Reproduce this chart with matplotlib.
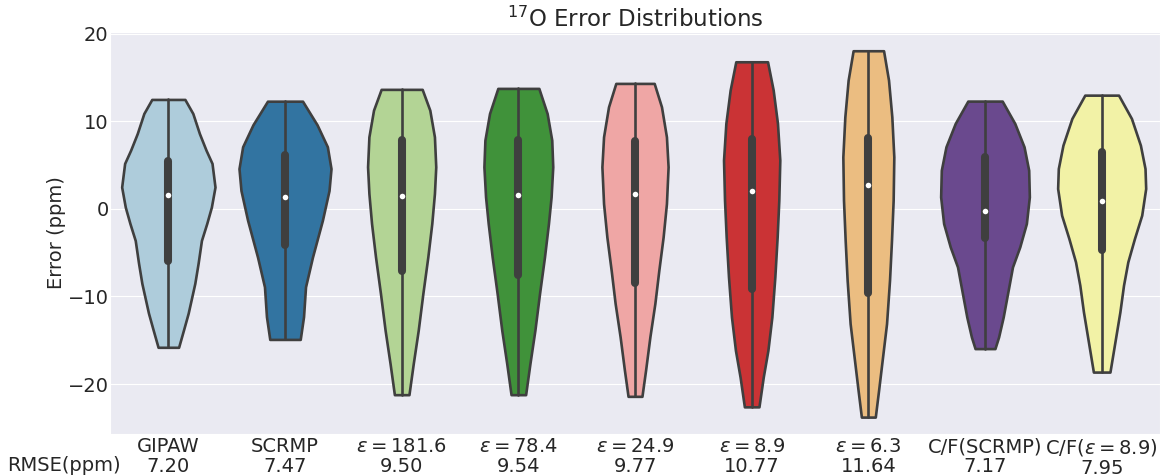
import numpy as np
import matplotlib.pyplot as plt
import seaborn as sns

sns.set_style("darkgrid")
plt.rcParams["font.family"] = ["DejaVu Sans"]

labels = ["GIPAW", "SCRMP", r"$\varepsilon=181.6$", r"$\varepsilon=78.4$",
          r"$\varepsilon=24.9$", r"$\varepsilon=8.9$", r"$\varepsilon=6.3$",
          "C/F(SCRMP)", r"C/F($\varepsilon=8.9$)"]
rmse = ["7.20", "7.47", "9.50", "9.54", "9.77", "10.77", "11.64", "7.17", "7.95"]
colors = ["#a6cee3", "#1f78b4", "#b2df8a", "#33a02c", "#fb9a99",
          "#e31a1c", "#fdbf6f", "#6a3d9a", "#ffff99"]

# violin outlines: error level (ppm) and density (arb. units)
levels = [
    [12.5, 10.9, 8.6, 6.7, 5.2, 2.5, 0.2, -1.67, -3.6, -6.2, -8.5, -11.9, -13.8, -15.8],
    [12.3, 9.6, 7.1, 4.6, 2.1, -1.3, -5.5, -8.9, -12.3, -14.9],
    [13.65, 11.28, 8.23, 4.80, 1.76, -1.67, -5.49, -9.67, -13.86, -17.67, -21.21],
    [13.76, 10.9, 7.85, 4.8, 1.37, -1.67, -5.49, -9.67, -13.86, -17.67, -21.21],
    [14.33, 11.66, 8.23, 4.80, 0.61, -3.2, -7.0, -10.8, -14.6, -18.4, -21.4],
    [16.8, 13.57, 9.76, 5.57, 1.0, -3.2, -7.77, -12.34, -16.15, -19.2, -22.6],
    [18.06, 14.71, 10.51, 5.94, 0.99, -3.58, -8.15, -13.1, -16.9, -20.7, -23.77],
    [12.31, 9.76, 7.09, 4.42, 1.37, -1.67, -4.34, -6.63, -9.29, -12.34, -14.63, -15.95],
    [12.99, 10.33, 7.28, 4.61, 2.33, -0.72, -3.39, -6.05, -8.72, -11.77, -15.2, -18.63],
]
density = [
    [50, 74, 94, 114, 132, 141, 130, 116, 100, 90, 80, 60, 46, 31],
    [53, 97, 128, 139, 133, 113, 83, 62, 56, 46],
    [62, 85, 99, 103, 99, 91, 79, 64, 50, 35, 22],
    [62, 87, 101, 104, 99, 91, 79, 64, 50, 35, 22],
    [58, 80, 95, 100, 95, 85, 72, 60, 45, 32, 21],
    [48, 65, 78, 85, 82, 77, 70, 61, 49, 35, 22],
    [46, 61, 71, 77, 75, 70, 64, 55, 43, 31, 21],
    [52, 90, 118, 132, 134, 125, 105, 83, 70, 55, 41, 30],
    [51, 90, 117, 131, 133, 121, 99, 79, 66, 55, 40, 25],
]
q1 = [-6.0, -4.1, -7.1, -7.5, -8.45, -9.2, -9.6, -3.3, -4.65]
medians = [1.6, 1.4, 1.5, 1.55, 1.75, 2.05, 2.7, -0.25, 0.9]
q3 = [5.5, 6.1, 7.85, 7.85, 7.7, 8.0, 8.1, 5.95, 6.45]

gray = "#3f3f3f"
fig = plt.figure(figsize=(11.6, 4.76), dpi=100)
ax = fig.add_axes([110 / 1160, 42 / 476, 1050 / 1160, 402 / 476])

positions = np.arange(len(labels))
peak = max(max(d) for d in density)
widths = [0.8 * max(d) / peak for d in density]

vpstats = []
for lv, d, m in zip(levels, density, medians):
    vpstats.append({"coords": np.array(lv), "vals": np.array(d, dtype=float),
                    "mean": m, "median": m, "min": min(lv), "max": max(lv)})

parts = ax.violin(vpstats, positions=positions, widths=widths,
                  showmeans=False, showextrema=False, showmedians=False)
for body, c in zip(parts["bodies"], colors):
    body.set_facecolor(sns.desaturate(c, 0.75))
    body.set_edgecolor(gray)
    body.set_linewidth(1.9)
    body.set_alpha(1)

for k, lv in enumerate(levels):
    ax.plot([k, k], [min(lv), max(lv)], color=gray, lw=1.9, zorder=2)
    ax.plot([k, k], [q1[k], q3[k]], color=gray, lw=5.8,
            solid_capstyle="round", zorder=2)
ax.scatter(positions, medians, s=16, color="white", zorder=3, linewidths=0)

ax.set_xlim(-0.5, 8.5)
ax.set_ylim(-25.7, 20.2)
ax.set_yticks([-20, -10, 0, 10, 20])
ax.xaxis.grid(False)
ax.set_xticks(positions)
ax.set_xticklabels([f"{a}\n{b}" for a, b in zip(labels, rmse)], fontsize=14,
                   linespacing=1.05)
ax.tick_params(axis="x", pad=-1)
ax.tick_params(axis="y", labelsize=14, pad=-2.5)
ax.set_ylabel("Error (ppm)", fontsize=14, labelpad=1)
ax.set_title(r"$^{17}$O Error Distributions", fontsize=16.5, pad=4)
fig.text(0.006, 5 / 476, "RMSE(ppm)", fontsize=14, color="#262626", va="baseline")

fig.savefig("out.png", dpi=100)
